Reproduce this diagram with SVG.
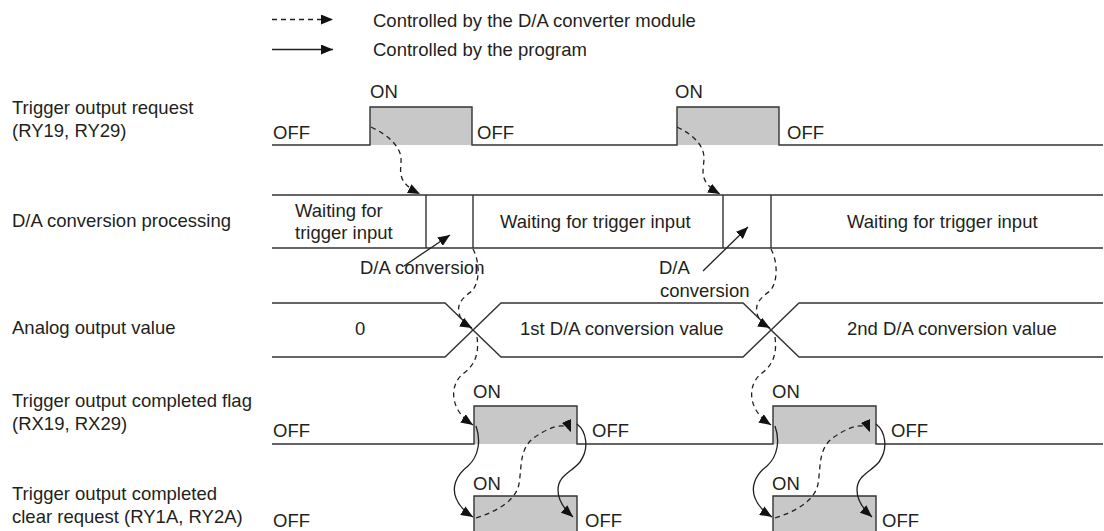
<svg xmlns="http://www.w3.org/2000/svg" width="1104" height="531" viewBox="0 0 1104 531">
<style>
text{font-family:"Liberation Sans",Arial,sans-serif;font-size:18.5px;fill:#231f20}
.sig{fill:none;stroke:#333;stroke-width:1.4}
.pf{fill:#c8c8c8;stroke:none}
.dash{fill:none;stroke:#231f20;stroke-width:1.3;stroke-dasharray:5 4}
.sol{fill:none;stroke:#231f20;stroke-width:1.3}
</style>
<defs>
<marker id="ah" markerUnits="userSpaceOnUse" viewBox="0 0 12 10" markerWidth="12" markerHeight="10" refX="12" refY="5" orient="auto">
<path d="M0,0 L12,5 L0,10 z" fill="#111"/>
</marker>
</defs>
<rect width="1104" height="531" fill="#fff"/>

<g id="legend">
<path class="dash" d="M272,19.5 H333" marker-end="url(#ah)"/>
<text x="373" y="27">Controlled by the D/A converter module</text>
<path class="sol" d="M272,49.5 H333" marker-end="url(#ah)"/>
<text x="373" y="56">Controlled by the program</text>
</g>

<g id="trigger-output-request">
<text x="12" y="114">Trigger output request</text>
<text x="12" y="137">(RY19, RY29)</text>
<rect class="pf" x="370" y="107" width="102" height="38"/>
<rect class="pf" x="677" y="107" width="102" height="38"/>
<path class="sig" d="M272,145 H370 V107 H472 V145 H677 V107 H779 V145 H1103"/>
<text x="273" y="139">OFF</text>
<text x="370" y="98">ON</text>
<text x="477" y="139">OFF</text>
<text x="675" y="98">ON</text>
<text x="787" y="139">OFF</text>
</g>

<g id="da-conversion-processing">
<text x="12" y="227">D/A conversion processing</text>
<path class="sig" d="M272,195 H1103 M272,248 H1103 M426,195 V248 M473,195 V248 M723,195 V248 M771,195 V248"/>
<text x="295" y="217">Waiting for</text>
<text x="295" y="239">trigger input</text>
<text x="500" y="228">Waiting for trigger input</text>
<text x="847" y="228">Waiting for trigger input</text>
<text x="360" y="274">D/A conversion</text>
<text x="659" y="274">D/A</text>
<text x="660" y="297">conversion</text>
</g>

<g id="analog-output-value">
<text x="12" y="334">Analog output value</text>
<path class="sig" d="M272,303 H445 L501,357 H743 L799,303 H1103"/>
<path class="sig" d="M272,357 H445 L501,303 H743 L799,357 H1103"/>
<text x="355" y="335">0</text>
<text x="520" y="335">1st D/A conversion value</text>
<text x="847" y="335">2nd D/A conversion value</text>
</g>

<g id="trigger-output-completed-flag">
<text x="12" y="407">Trigger output completed flag</text>
<text x="12" y="430">(RX19, RX29)</text>
<rect class="pf" x="474" y="406" width="103" height="38"/>
<rect class="pf" x="773" y="406" width="103" height="38"/>
<path class="sig" d="M272,444 H474 V406 H577 V444 H773 V406 H876 V444 H1103"/>
<text x="273" y="437">OFF</text>
<text x="473" y="398">ON</text>
<text x="592" y="437">OFF</text>
<text x="772" y="398">ON</text>
<text x="891" y="437">OFF</text>
</g>

<g id="trigger-output-completed-clear-request">
<text x="12" y="500">Trigger output completed</text>
<text x="12" y="523">clear request (RY1A, RY2A)</text>
<rect class="pf" x="474" y="496" width="103" height="40"/>
<rect class="pf" x="773" y="496" width="103" height="40"/>
<path class="sig" d="M272,536 H474 V496 H577 V536 H773 V496 H876 V536 H1103"/>
<text x="273" y="527">OFF</text>
<text x="473" y="490">ON</text>
<text x="585" y="527">OFF</text>
<text x="772" y="490">ON</text>
<text x="882" y="527">OFF</text>
</g>

<g id="connectors">
<path class="sol" d="M404,266 L450,235" marker-end="url(#ah)"/>
<path class="sol" d="M703,271 L748,227" marker-end="url(#ah)"/>
<path class="dash" d="M371,127 C388,135 400,146 401,158 C402,170 394,181 420,194" marker-end="url(#ah)"/>
<path class="dash" d="M677,127 C694,135 704,146 704,158 C704,170 697,181 720,194" marker-end="url(#ah)"/>
<g id="set1">
<path class="dash" d="M473,249 C480,262 480,282 472,291 C462,298 457,304 459,313 C460,319 465,324 472,328" marker-end="url(#ah)"/>
<path class="dash" d="M477,337 C479,352 476,364 464,373 C452,382 451,398 458,410 C462,417 467,421 473,425" marker-end="url(#ah)"/>
<path class="sol" d="M476,426 C481,440 479,456 468,466 C455,476 452,488 456,498 C459,506 465,512 473,517" marker-end="url(#ah)"/>
<path class="dash" d="M476,518 C498,511 516,500 519,484 C522,466 519,448 535,437 C548,428 566,420 571,432" marker-end="url(#ah)"/>
<path class="sol" d="M577,424 C586,431 590,448 580,462 C572,472 558,475 558,490 C558,500 564,509 573,517" marker-end="url(#ah)"/>
</g>
<g id="set2" transform="translate(298,0)">
<path class="dash" d="M473,249 C480,262 480,282 472,291 C462,298 457,304 459,313 C460,319 465,324 472,328" marker-end="url(#ah)"/>
<path class="dash" d="M477,337 C479,352 476,364 464,373 C452,382 451,398 458,410 C462,417 467,421 473,425" marker-end="url(#ah)"/>
</g>
<g id="set2b" transform="translate(299,0)">
<path class="sol" d="M476,426 C481,440 479,456 468,466 C455,476 452,488 456,498 C459,506 465,512 473,517" marker-end="url(#ah)"/>
<path class="dash" d="M476,518 C498,511 516,500 519,484 C522,466 519,448 535,437 C548,428 566,420 571,432" marker-end="url(#ah)"/>
<path class="sol" d="M577,424 C586,431 590,448 580,462 C572,472 558,475 558,490 C558,500 564,509 573,517" marker-end="url(#ah)"/>
</g>
</g>
</svg>
